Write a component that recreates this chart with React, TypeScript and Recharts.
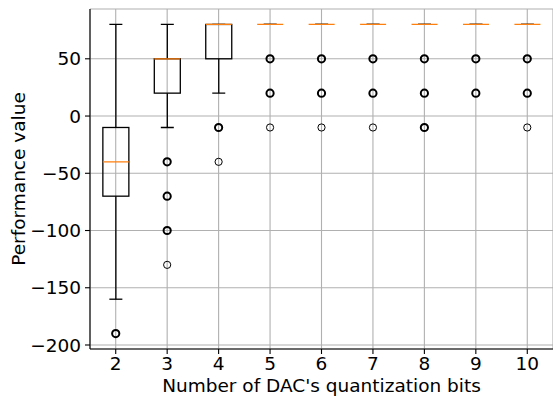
import { ComposedChart, Bar, Scatter, XAxis, YAxis, CartesianGrid } from "recharts"

// box statistics per number of DAC bits
const bits = ["2", "3", "4", "5", "6", "7", "8", "9", "10"]
const whiskerLow = [-160, -10, 20, 80, 80, 80, 80, 80, 80]
const q1 = [-70, 20, 50, 80, 80, 80, 80, 80, 80]
const median = [-40, 50, 80, 80, 80, 80, 80, 80, 80]
const q3 = [-10, 50, 80, 80, 80, 80, 80, 80, 80]
const whiskerHigh = [80, 80, 80, 80, 80, 80, 80, 80, 80]

// fliers, and whether they are drawn many times (look heavier)
const fliers = [
  [-190],
  [-40, -70, -100, -130],
  [-10, -40],
  [50, 20, -10],
  [50, 20, -10],
  [50, 20, -10],
  [50, 20, -10],
  [50, 20],
  [50, 20, -10],
]
const fliersHeavy = [
  [true],
  [true, true, true, false],
  [true, false],
  [true, true, false],
  [true, true, false],
  [true, true, false],
  [true, true, true],
  [true, true],
  [true, true, false],
]

const yTicks = [-200, -150, -100, -50, 0, 50]
const Y_MIN = -203.5
const Y_MAX = 93.5

const data = bits.map((b, i) => ({
  bits: b,
  low: whiskerLow[i],
  q1: q1[i],
  median: median[i],
  q3: q3[i],
  high: whiskerHigh[i],
}))

const flierData = bits.flatMap((b, i) =>
  fliers[i].map((v, j) => ({ bits: b, value: v, heavy: fliersHeavy[i][j] }))
)

const FONT = "DejaVu Sans, sans-serif"
const FS = 18.5
const LW = 1.3

const BoxShape = (props: any) => {
  const { x, y, width, height, payload } = props
  const sy = (v: number) => y + ((Y_MAX - v) / (Y_MAX - Y_MIN)) * height
  const cx = x + width / 2
  const cap = width / 4
  return (
    <g>
      <line x1={cx} x2={cx} y1={sy(payload.q1)} y2={sy(payload.low)} stroke="#000" strokeWidth={LW} />
      <line x1={cx} x2={cx} y1={sy(payload.q3)} y2={sy(payload.high)} stroke="#000" strokeWidth={LW} />
      <line x1={cx - cap} x2={cx + cap} y1={sy(payload.low)} y2={sy(payload.low)} stroke="#000" strokeWidth={LW} />
      <line x1={cx - cap} x2={cx + cap} y1={sy(payload.high)} y2={sy(payload.high)} stroke="#000" strokeWidth={LW} />
      <rect
        x={x}
        y={sy(payload.q3)}
        width={width}
        height={sy(payload.q1) - sy(payload.q3)}
        fill="none"
        stroke="#000"
        strokeWidth={LW}
      />
      <line x1={x} x2={x + width} y1={sy(payload.median)} y2={sy(payload.median)} stroke="#ff7f0e" strokeWidth={LW} />
    </g>
  )
}

const FlierShape = (props: any) => {
  const { cx, cy, payload } = props
  return <circle cx={cx} cy={cy} r={3.6} fill="none" stroke="#000" strokeWidth={payload.heavy ? 2 : 1} />
}

const fmt = (v: number) => (v < 0 ? `\u2212${Math.abs(v)}` : `${v}`)

export default function App() {
  return (
    <div style={{ position: "absolute", left: 0, top: 0 }}>
      <ComposedChart
        width={553}
        height={403}
        data={data}
        margin={{ top: 9, right: 0, bottom: 0, left: 0 }}
        barCategoryGap="25%"
        style={{ fontFamily: FONT }}
      >
        <CartesianGrid stroke="#b0b0b0" strokeWidth={1.1} />
        <XAxis
          dataKey="bits"
          allowDuplicatedCategory={false}
          height={54}
          tickSize={5}
          tickMargin={3}
          tick={{ fill: "#000", fontSize: FS, fontFamily: FONT }}
          tickLine={{ stroke: "#000", strokeWidth: 1.1 }}
          axisLine={{ stroke: "#000", strokeWidth: 1.1 }}
          label={{
            content: (p: any) => {
              const vb = p.viewBox
              return (
                <text x={vb.x + vb.width / 2} y={392} textAnchor="middle" fontSize={FS} fontFamily={FONT} fill="#000">
                  Number of DAC's quantization bits
                </text>
              )
            },
          }}
        />
        <XAxis
          xAxisId="top"
          orientation="top"
          dataKey="bits"
          height={0}
          tick={false}
          tickLine={false}
          axisLine={{ stroke: "#000", strokeWidth: 1.1 }}
        />
        <YAxis
          width={90}
          domain={[Y_MIN, Y_MAX]}
          allowDataOverflow
          ticks={yTicks}
          tickFormatter={fmt}
          tickSize={5}
          tickMargin={4}
          tick={{ fill: "#000", fontSize: FS, fontFamily: FONT }}
          tickLine={{ stroke: "#000", strokeWidth: 1.1 }}
          axisLine={{ stroke: "#000", strokeWidth: 1.1 }}
          label={{
            content: (p: any) => {
              const vb = p.viewBox
              const cy = vb.y + vb.height / 2
              return (
                <text
                  x={25}
                  y={cy}
                  transform={`rotate(-90 25 ${cy})`}
                  textAnchor="middle"
                  fontSize={FS}
                  fontFamily={FONT}
                  fill="#000"
                >
                  Performance value
                </text>
              )
            },
          }}
        />
        <Bar dataKey={() => [Y_MIN, Y_MAX]} shape={BoxShape} isAnimationActive={false} />
        <Scatter data={flierData} dataKey="value" shape={FlierShape} isAnimationActive={false} />
      </ComposedChart>
    </div>
  )
}
